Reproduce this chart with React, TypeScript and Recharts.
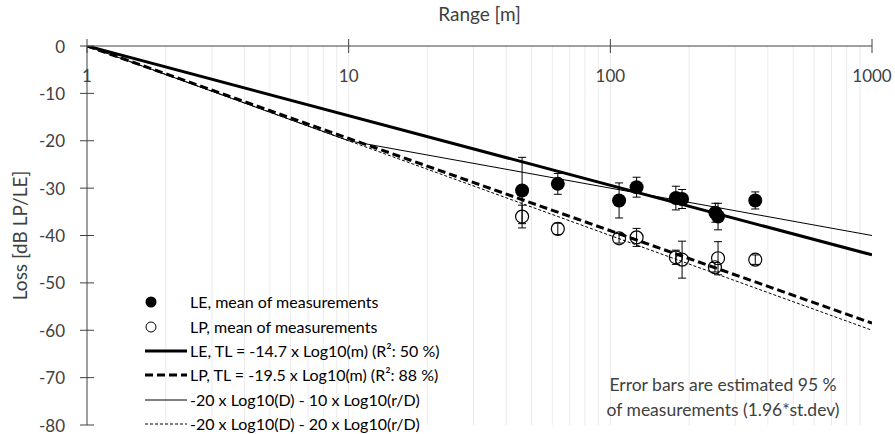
import React from 'react';
import { ComposedChart, Line, Scatter, ErrorBar, XAxis, YAxis, ReferenceLine, Label } from 'recharts';

const rangeTicks = [1, 10, 100, 1000];
const lossTicks = [-80, -70, -60, -50, -40, -30, -20, -10, 0];
const gridRanges = [2, 3, 4, 5, 6, 7, 8, 9, 10, 20, 30, 40, 50, 60, 70, 80, 90, 100, 200, 300, 400, 500, 600, 700, 800, 900];

// measured means with 95% error half-widths
const leMeans = [
  { r: 46, v: -30.5, e: 7.0 },
  { r: 63, v: -29.1, e: 2.2 },
  { r: 108, v: -32.6, e: 3.7 },
  { r: 126, v: -29.8, e: 2.1 },
  { r: 178, v: -32.1, e: 2.5 },
  { r: 188, v: -32.3, e: 2.0 },
  { r: 252, v: -35.2, e: 2.0 },
  { r: 258, v: -36.0, e: 2.8 },
  { r: 358, v: -32.6, e: 1.8 },
];
const lpMeans = [
  { r: 46, v: -36.0, e: 2.4 },
  { r: 63, v: -38.6, e: 1.2 },
  { r: 108, v: -40.6, e: 1.0 },
  { r: 126, v: -40.4, e: 1.9 },
  { r: 178, v: -44.6, e: 1.5 },
  { r: 188, v: -45.1, e: 3.9 },
  { r: 251, v: -46.7, e: 1.0 },
  { r: 258, v: -44.8, e: 3.5 },
  { r: 358, v: -45.1, e: 1.0 },
];

// fitted / model lines (straight in log-range)
const leFit = [{ r: 1, v: 0 }, { r: 1000, v: -44.1 }];
const lpFit = [{ r: 1, v: 0 }, { r: 1000, v: -58.5 }];
const model10 = [{ r: 1, v: 0 }, { r: 10, v: -20 }, { r: 1000, v: -40 }];
const model20 = [{ r: 1, v: 0 }, { r: 1000, v: -60 }];

const legendItems = [
  { kind: 'filled', text: 'LE, mean of measurements' },
  { kind: 'open', text: 'LP, mean of measurements' },
  { kind: 'thick', text: 'LE, TL = -14.7 x Log10(m) (R\u00b2: 50 %)' },
  { kind: 'thickDash', text: 'LP, TL = -19.5 x Log10(m) (R\u00b2: 88 %)' },
  { kind: 'thin', text: '-20 x Log10(D) - 10 x Log10(r/D)' },
  { kind: 'thinDash', text: '-20 x Log10(D) - 20 x Log10(r/D)' },
];

const FONT = 'Lato, "Noto Sans", sans-serif';
const INK = '#404040';

const XTick = (props: any) => {
  const { x, y, payload } = props;
  const axisY = y + 7 + 2;
  return (
    <g>
      <line x1={x} x2={x} y1={axisY - 7} y2={axisY + 7} stroke={INK} strokeWidth={1} />
      <text x={x} y={axisY + 29} textAnchor="middle" dominantBaseline="central" fill={INK} fontSize={17} fontFamily={FONT}>
        {payload.value}
      </text>
    </g>
  );
};

const YTick = (props: any) => {
  const { x, y, payload } = props;
  const axisX = x + 7 + 15;
  return (
    <g>
      <line x1={axisX - 7} x2={axisX + 7} y1={y} y2={y} stroke={INK} strokeWidth={1} />
      <text x={x} y={y} textAnchor="end" dominantBaseline="central" fill={INK} fontSize={17} fontFamily={FONT}>
        {payload.value}
      </text>
    </g>
  );
};

const Marker = ({ kind }: { kind: string }) => (
  <svg width={46} height={14} style={{ display: 'block' }}>
    {kind === 'filled' && <circle cx={8} cy={7} r={5.5} fill="#000" />}
    {kind === 'open' && <circle cx={8} cy={7} r={5} fill="none" stroke="#000" strokeWidth={1} />}
    {kind === 'thick' && <line x1={2} x2={44} y1={7} y2={7} stroke="#000" strokeWidth={3} />}
    {kind === 'thickDash' && <line x1={2} x2={44} y1={7} y2={7} stroke="#000" strokeWidth={3} strokeDasharray="8 4" />}
    {kind === 'thin' && <line x1={2} x2={44} y1={7} y2={7} stroke="#000" strokeWidth={1} />}
    {kind === 'thinDash' && <line x1={2} x2={44} y1={7} y2={7} stroke="#000" strokeWidth={1} strokeDasharray="3 2" />}
  </svg>
);

const filledDot = (p: any) => <circle cx={p.cx} cy={p.cy} r={7} fill="#000" />;
const openDot = (p: any) => <circle cx={p.cx} cy={p.cy} r={6.5} fill="none" stroke="#000" strokeWidth={1.2} />;

export default function App() {
  return (
    <div style={{ position: 'absolute', left: 0, top: 0, width: 895, height: 434, background: '#fff' }}>
      <ComposedChart width={895} height={434} margin={{ top: 0, right: 23, bottom: 9, left: 0 }}>
        <XAxis
          dataKey="r"
          type="number"
          scale="log"
          domain={[1, 1000]}
          ticks={rangeTicks}
          orientation="top"
          height={46}
          allowDataOverflow
          tickSize={7}
          tickMargin={2}
          tickLine={false}
          tick={<XTick />}
          axisLine={{ stroke: INK }}
        >
          <Label value="Range [m]" position="insideTop" offset={8} fill={INK} fontSize={19} fontFamily={FONT} />
        </XAxis>
        <YAxis
          type="number"
          domain={[-80, 0]}
          ticks={lossTicks}
          width={87}
          allowDataOverflow
          tickSize={7}
          tickMargin={15}
          tickLine={false}
          tick={<YTick />}
          axisLine={{ stroke: INK }}
        >
          <Label value="Loss [dB LP/LE]" angle={-90} position="insideLeft" offset={20} fill={INK} fontSize={19} fontFamily={FONT} style={{ textAnchor: 'middle' }} />
        </YAxis>
        {gridRanges.map((g) => (
          <ReferenceLine key={g} x={g} stroke="#ebebeb" strokeWidth={1} />
        ))}
        <Line data={model20} dataKey="v" stroke="#000" strokeWidth={1} strokeDasharray="3 2" dot={false} isAnimationActive={false} />
        <Line data={model10} dataKey="v" stroke="#000" strokeWidth={1} dot={false} isAnimationActive={false} />
        <Line data={lpFit} dataKey="v" stroke="#000" strokeWidth={3} strokeDasharray="8 4" dot={false} isAnimationActive={false} />
        <Line data={leFit} dataKey="v" stroke="#000" strokeWidth={3} dot={false} isAnimationActive={false} />
        <Scatter data={lpMeans} dataKey="v" shape={openDot} isAnimationActive={false}>
          <ErrorBar dataKey="e" direction="y" width={4} stroke="#000" strokeWidth={1} />
        </Scatter>
        <Scatter data={leMeans} dataKey="v" shape={filledDot} isAnimationActive={false}>
          <ErrorBar dataKey="e" direction="y" width={4} stroke="#000" strokeWidth={1} />
        </Scatter>
      </ComposedChart>
      <div style={{ position: 'absolute', left: 143, top: 290, fontFamily: FONT, fontSize: 16, lineHeight: '20px', color: '#000' }}>
        {legendItems.map((it) => (
          <div key={it.text} style={{ display: 'flex', alignItems: 'center', height: 24.4 }}>
            <Marker kind={it.kind} />
            <span style={{ whiteSpace: 'nowrap', marginLeft: 1 }}>{it.text}</span>
          </div>
        ))}
      </div>
      <div style={{ position: 'absolute', left: 573, top: 372, width: 300, textAlign: 'center', fontFamily: FONT, fontSize: 17.5, lineHeight: '25px', color: INK }}>
        Error bars are estimated 95 %<br />of measurements (1.96*st.dev)
      </div>
    </div>
  );
}
